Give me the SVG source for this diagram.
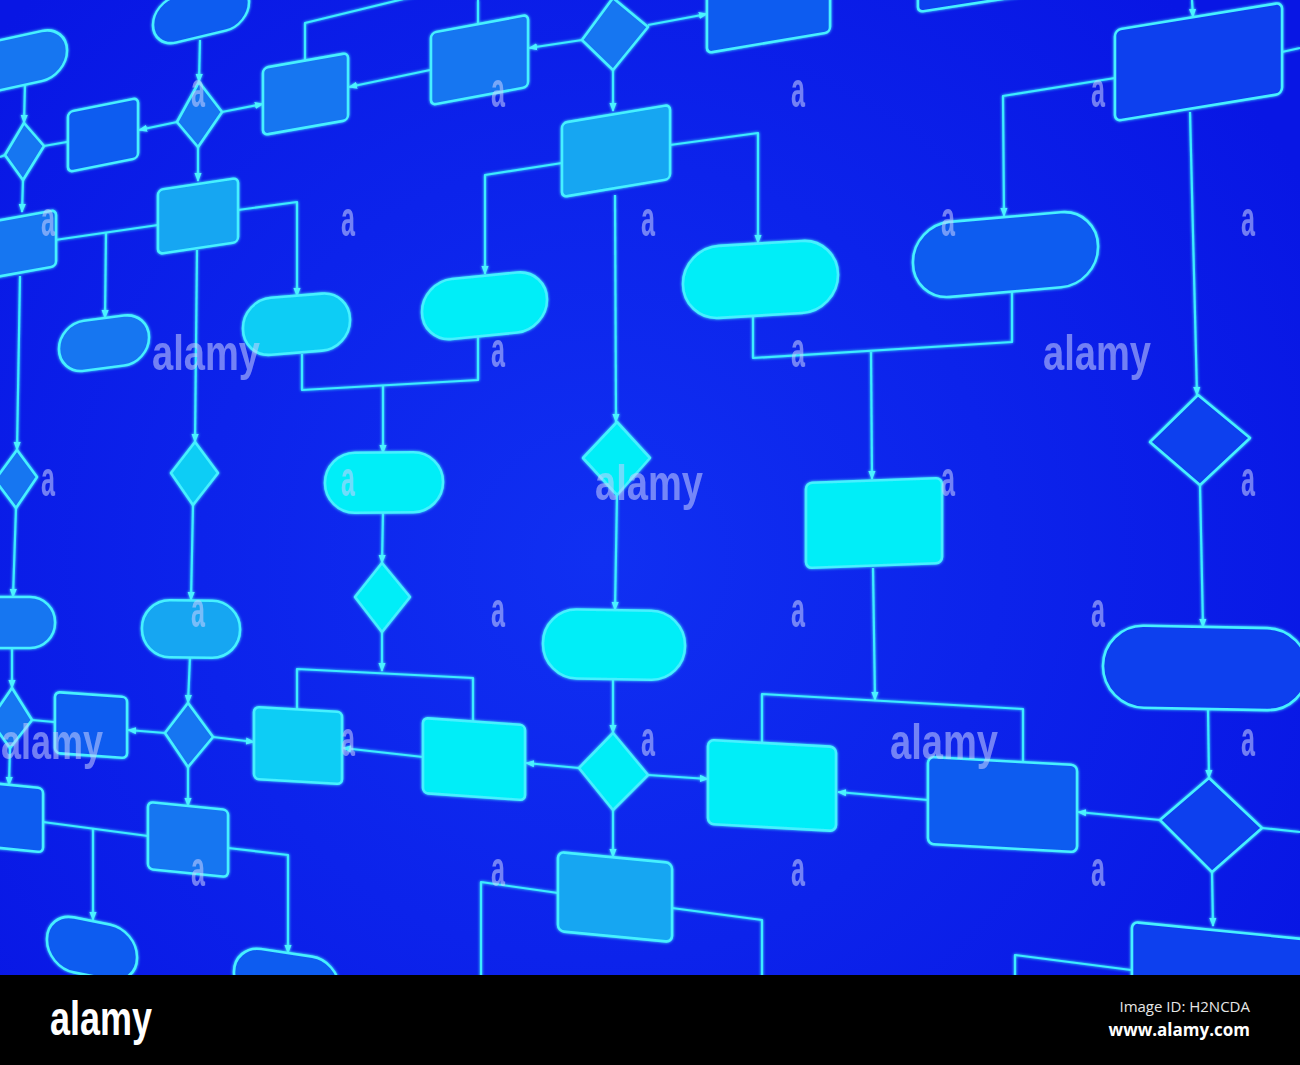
<svg xmlns="http://www.w3.org/2000/svg" width="1300" height="1065" viewBox="0 0 1300 1065">
<defs>
<radialGradient id="bg" gradientUnits="userSpaceOnUse" cx="600" cy="560" r="800">
<stop offset="0" stop-color="#1030f2"/>
<stop offset="1" stop-color="#0816e4"/>
</radialGradient>
<filter id="glow" x="-20%" y="-20%" width="140%" height="140%">
<feGaussianBlur in="SourceGraphic" stdDeviation="1.8" result="b"/>
<feMerge><feMergeNode in="b"/><feMergeNode in="SourceGraphic"/></feMerge>
</filter>
<marker id="ah" viewBox="0 0 10 10" refX="9" refY="5" markerWidth="9" markerHeight="9" markerUnits="userSpaceOnUse" orient="auto">
<path d="M0,1 L10,5 L0,9 z" fill="#4cf2ff"/>
</marker>
<style>
.ln{fill:none;stroke:#3cecff;stroke-width:2.2;stroke-linejoin:round}
.arr{marker-end:url(#ah)}
.node{filter:url(#glow)}
.node rect,.node polygon{stroke:#46f0ff;stroke-width:2.6;stroke-linejoin:round}
.c1{fill:#02eef8}.c2{fill:#10cdf5}.c3{fill:#12a6f2}.c4{fill:#1476f1}.c5{fill:#105cf0}.c6{fill:#0a40ee}
.wm{font-family:"Liberation Sans Narrow","Liberation Sans",sans-serif;font-weight:bold;font-size:50px;fill:#c8d0ff;opacity:.55}
</style>
</defs>
<rect width="1300" height="1065" fill="url(#bg)"/>

<g id="connectors" filter="url(#glow)">
<polyline class="ln arr" points="25,84 24,123"/>
<polyline class="ln arr" points="44,146 78,140"/>
<polyline class="ln arr" points="23,180 22,212"/>
<polyline class="ln" points="5,155 0,157"/>
<polyline class="ln arr" points="200,40 199,82"/>
<polyline class="ln arr" points="177,122 139,130"/>
<polyline class="ln arr" points="222,112 263,104"/>
<polyline class="ln arr" points="198,147 198,181"/>
<polyline class="ln" points="305,61 305,23 420,-5"/>
<polyline class="ln" points="478,24 478,0"/>
<polyline class="ln arr" points="430,70 349,87"/>
<polyline class="ln arr" points="582,40 529,48"/>
<polyline class="ln arr" points="648,25 707,14"/>
<polyline class="ln arr" points="613,70 613,111"/>
<polyline class="ln arr" points="562,163 485,175 485,274"/>
<polyline class="ln arr" points="670,145 758,133 758,243"/>
<polyline class="ln arr" points="615,195 616,422"/>
<polyline class="ln" points="478,337 478,380 302,390 302,354"/>
<polyline class="ln arr" points="383,386 383,453"/>
<polyline class="ln" points="753,314 753,358 1012,342 1012,292"/>
<polyline class="ln arr" points="871,352 872,479"/>
<polyline class="ln arr" points="1192,0 1193,17"/>
<polyline class="ln" points="1282,52 1300,48"/>
<polyline class="ln arr" points="1115,78 1003,96 1004,216"/>
<polyline class="ln arr" points="1190,112 1197,395"/>
<polyline class="ln arr" points="1200,485 1203,627"/>
<polyline class="ln arr" points="1208,708 1209,778"/>
<polyline class="ln arr" points="1160,820 1078,812"/>
<polyline class="ln" points="1262,828 1300,832"/>
<polyline class="ln arr" points="1212,872 1213,926"/>
<polyline class="ln" points="1131,970 1015,955 1015,980"/>
<polyline class="ln" points="1023,762 1023,709 762,694 762,742"/>
<polyline class="ln arr" points="873,568 875,700"/>
<polyline class="ln arr" points="928,800 838,792"/>
<polyline class="ln arr" points="617,495 615,610"/>
<polyline class="ln arr" points="613,680 613,733"/>
<polyline class="ln arr" points="579,768 526,763"/>
<polyline class="ln arr" points="648,775 708,779"/>
<polyline class="ln arr" points="613,810 613,857"/>
<polyline class="ln" points="558,893 481,882 481,980"/>
<polyline class="ln" points="672,908 762,920 762,980"/>
<polyline class="ln" points="473,722 473,678 297,669 297,709"/>
<polyline class="ln arr" points="382,632 382,671"/>
<polyline class="ln arr" points="383,513 382,563"/>
<polyline class="ln arr" points="423,757 343,748"/>
<polyline class="ln arr" points="213,737 254,742"/>
<polyline class="ln arr" points="165,733 128,730"/>
<polyline class="ln arr" points="188,767 188,806"/>
<polyline class="ln arr" points="190,657 188,703"/>
<polyline class="ln arr" points="193,505 191,600"/>
<polyline class="ln arr" points="197,250 195,442"/>
<polyline class="ln" points="158,225 55,240"/>
<polyline class="ln arr" points="106,233 105,318"/>
<polyline class="ln arr" points="238,210 297,202 297,296"/>
<polyline class="ln arr" points="20,276 17,450"/>
<polyline class="ln arr" points="16,508 13,597"/>
<polyline class="ln arr" points="12,648 12,688"/>
<polyline class="ln arr" points="32,720 65,723"/>
<polyline class="ln arr" points="10,748 9,785"/>
<polyline class="ln" points="43,822 148,836"/>
<polyline class="ln arr" points="93,829 93,920"/>
<polyline class="ln arr" points="228,848 288,855 288,953"/>
</g>

<g id="pillA" class="node"><rect class="c4" x="0" y="0" width="107" height="50" rx="25" transform="translate(-40,49) skewY(-12.4)"/></g>
<g id="d1" class="node"><polygon class="c4" points="24,123 44,146 23,180 5,155"/></g>
<g id="r1" class="node"><rect class="c5" x="0" y="0" width="70" height="60" rx="5" transform="translate(68,112) skewY(-11.3)"/></g>
<g id="pillB" class="node"><rect class="c5" x="0" y="0" width="96" height="46" rx="23" transform="translate(153,2) skewY(-13.5)"/></g>
<g id="d2" class="node"><polygon class="c4" points="199,82 222,112 198,147 177,122"/></g>
<g id="r2" class="node"><rect class="c4" x="0" y="0" width="85" height="67" rx="5" transform="translate(263,68) skewY(-10)"/></g>
<g id="r3" class="node"><rect class="c4" x="0" y="0" width="97" height="72" rx="5" transform="translate(431,33) skewY(-10.6)"/></g>
<g id="d3" class="node"><polygon class="c4" points="613,-2 648,27 613,70 582,40"/></g>
<g id="r4" class="node"><rect class="c5" x="0" y="0" width="123" height="73" rx="5" transform="translate(707,-20) skewY(-9.65)"/></g>
<g id="r5" class="node"><rect class="c6" x="0" y="0" width="130" height="72" rx="5" transform="translate(918,-60) skewY(-8.8)"/></g>
<g id="r6" class="node"><rect class="c3" x="0" y="0" width="108" height="74" rx="5" transform="translate(562,123) skewY(-9.5)"/></g>
<g id="p7" class="node"><rect class="c1" x="0" y="0" width="125" height="60" rx="30" transform="translate(422,282) skewY(-5.7)"/></g>
<g id="p8" class="node"><rect class="c1" x="0" y="0" width="155" height="72" rx="36" transform="translate(683,248) skewY(-3.4)"/></g>
<g id="p11" class="node"><rect class="c5" x="0" y="0" width="185" height="75" rx="37" transform="translate(913,225) skewY(-4.9)"/></g>
<g id="r14" class="node"><rect class="c6" x="0" y="0" width="167" height="91" rx="6" transform="translate(1115,30) skewY(-9.3)"/></g>
<g id="r0" class="node"><rect class="c4" x="0" y="0" width="66" height="56" rx="5" transform="translate(-10,222) skewY(-10.2)"/></g>
<g id="p28" class="node"><rect class="c4" x="0" y="0" width="90" height="50" rx="25" transform="translate(59,324) skewY(-7.4)"/></g>
<g id="r27" class="node"><rect class="c3" x="0" y="0" width="80" height="64" rx="5" transform="translate(158,190) skewY(-8.5)"/></g>
<g id="p29" class="node"><rect class="c2" x="0" y="0" width="107" height="57" rx="28" transform="translate(243,300) skewY(-4.6)"/></g>
<g id="d40" class="node"><polygon class="c2" points="195,442 218,473 193,505 171,473"/></g>
<g id="p10" class="node"><rect class="c1" x="0" y="0" width="118" height="60" rx="30" transform="translate(325,453) skewY(-0.5)"/></g>
<g id="d26" class="node"><polygon class="c1" points="382,563 410,597 382,632 355,597"/></g>
<g id="d13" class="node"><polygon class="c1" points="617,422 650,458 617,495 583,458"/></g>
<g id="r12" class="node"><rect class="c1" x="0" y="0" width="136" height="85" rx="6" transform="translate(806,483) skewY(-2.1)"/></g>
<g id="d15" class="node"><polygon class="c6" points="1198,395 1250,438 1200,485 1150,442"/></g>
<g id="p16" class="node"><rect class="c6" x="0" y="0" width="205" height="82" rx="41" transform="translate(1103,625) skewY(1.1)"/></g>
<g id="d17" class="node"><polygon class="c6" points="1209,778 1262,828 1212,872 1160,820"/></g>
<g id="r18" class="node"><rect class="c5" x="0" y="0" width="149" height="87" rx="6" transform="translate(928,757) skewY(3.1)"/></g>
<g id="r19" class="node"><rect class="c6" x="0" y="0" width="175" height="90" rx="6" transform="translate(1132,922) skewY(5.7)"/></g>
<g id="p39" class="node"><rect class="c3" x="0" y="0" width="98" height="57" rx="28" transform="translate(142,600) skewY(0.6)"/></g>
<g id="p21" class="node"><rect class="c1" x="0" y="0" width="142" height="69" rx="34" transform="translate(543,609) skewY(0.9)"/></g>
<g id="d22" class="node"><polygon class="c1" points="613,733 648,775 613,810 579,768"/></g>
<g id="r23" class="node"><rect class="c1" x="0" y="0" width="102" height="75" rx="5" transform="translate(423,718) skewY(4)"/></g>
<g id="r20" class="node"><rect class="c1" x="0" y="0" width="128" height="84" rx="6" transform="translate(708,740) skewY(3.1)"/></g>
<g id="r24" class="node"><rect class="c3" x="0" y="0" width="114" height="79" rx="6" transform="translate(558,852) skewY(5.5)"/></g>
<g id="r25" class="node"><rect class="c2" x="0" y="0" width="88" height="72" rx="5" transform="translate(254,707) skewY(3.3)"/></g>
<g id="d38" class="node"><polygon class="c4" points="188,703 213,737 188,767 165,733"/></g>
<g id="r33" class="node"><rect class="c5" x="0" y="0" width="72" height="61" rx="5" transform="translate(55,692) skewY(4)"/></g>
<g id="r35" class="node"><rect class="c4" x="0" y="0" width="80" height="67" rx="5" transform="translate(148,802) skewY(5.7)"/></g>
<g id="r34" class="node"><rect class="c5" x="0" y="0" width="63" height="64" rx="5" transform="translate(-20,782) skewY(5.7)"/></g>
<g id="p36" class="node"><rect class="c5" x="0" y="0" width="90" height="55" rx="27" transform="translate(47,912) skewY(11.3)"/></g>
<g id="p37" class="node"><rect class="c5" x="0" y="0" width="105" height="55" rx="27" transform="translate(234,945) skewY(8.5)"/></g>
<g id="d32" class="node"><polygon class="c4" points="12,688 32,720 10,748 -10,720"/></g>
<g id="d30" class="node"><polygon class="c4" points="17,450 37,477 16,508 -5,480"/></g>
<g id="p31" class="node"><rect class="c4" x="0" y="0" width="115" height="51" rx="25" transform="translate(-60,597)"/></g>

<g id="watermarks">
<text class="wm" x="191" y="107" textLength="14" lengthAdjust="spacingAndGlyphs">a</text>
<text class="wm" x="491" y="107" textLength="14" lengthAdjust="spacingAndGlyphs">a</text>
<text class="wm" x="791" y="107" textLength="14" lengthAdjust="spacingAndGlyphs">a</text>
<text class="wm" x="1091" y="107" textLength="14" lengthAdjust="spacingAndGlyphs">a</text>
<text class="wm" x="41" y="236" textLength="14" lengthAdjust="spacingAndGlyphs">a</text>
<text class="wm" x="341" y="236" textLength="14" lengthAdjust="spacingAndGlyphs">a</text>
<text class="wm" x="641" y="236" textLength="14" lengthAdjust="spacingAndGlyphs">a</text>
<text class="wm" x="941" y="236" textLength="14" lengthAdjust="spacingAndGlyphs">a</text>
<text class="wm" x="1241" y="236" textLength="14" lengthAdjust="spacingAndGlyphs">a</text>
<text class="wm" x="152" y="370" textLength="108" lengthAdjust="spacingAndGlyphs">alamy</text>
<text class="wm" x="491" y="367" textLength="14" lengthAdjust="spacingAndGlyphs">a</text>
<text class="wm" x="791" y="367" textLength="14" lengthAdjust="spacingAndGlyphs">a</text>
<text class="wm" x="1043" y="370" textLength="108" lengthAdjust="spacingAndGlyphs">alamy</text>
<text class="wm" x="41" y="496" textLength="14" lengthAdjust="spacingAndGlyphs">a</text>
<text class="wm" x="341" y="496" textLength="14" lengthAdjust="spacingAndGlyphs">a</text>
<text class="wm" x="595" y="500" textLength="108" lengthAdjust="spacingAndGlyphs">alamy</text>
<text class="wm" x="941" y="496" textLength="14" lengthAdjust="spacingAndGlyphs">a</text>
<text class="wm" x="1241" y="496" textLength="14" lengthAdjust="spacingAndGlyphs">a</text>
<text class="wm" x="191" y="627" textLength="14" lengthAdjust="spacingAndGlyphs">a</text>
<text class="wm" x="491" y="627" textLength="14" lengthAdjust="spacingAndGlyphs">a</text>
<text class="wm" x="791" y="627" textLength="14" lengthAdjust="spacingAndGlyphs">a</text>
<text class="wm" x="1091" y="627" textLength="14" lengthAdjust="spacingAndGlyphs">a</text>
<text class="wm" x="1" y="759" textLength="102" lengthAdjust="spacingAndGlyphs">alamy</text>
<text class="wm" x="341" y="756" textLength="14" lengthAdjust="spacingAndGlyphs">a</text>
<text class="wm" x="641" y="756" textLength="14" lengthAdjust="spacingAndGlyphs">a</text>
<text class="wm" x="890" y="759" textLength="108" lengthAdjust="spacingAndGlyphs">alamy</text>
<text class="wm" x="1241" y="756" textLength="14" lengthAdjust="spacingAndGlyphs">a</text>
<text class="wm" x="191" y="886" textLength="14" lengthAdjust="spacingAndGlyphs">a</text>
<text class="wm" x="491" y="886" textLength="14" lengthAdjust="spacingAndGlyphs">a</text>
<text class="wm" x="791" y="886" textLength="14" lengthAdjust="spacingAndGlyphs">a</text>
<text class="wm" x="1091" y="886" textLength="14" lengthAdjust="spacingAndGlyphs">a</text>
</g>

<g id="footer">
<rect x="0" y="975" width="1300" height="90" fill="#000"/>
<text x="50" y="1035" font-family="Liberation Sans Narrow, Liberation Sans, sans-serif" font-weight="bold" font-size="48" fill="#fff" textLength="102" lengthAdjust="spacingAndGlyphs">alamy</text>
<text x="1250" y="1012" text-anchor="end" font-family="Open Sans, Noto Sans, sans-serif" font-size="15" fill="#e6e6e6">Image ID: H2NCDA</text>
<text x="1250" y="1036" text-anchor="end" font-family="Open Sans, Noto Sans, sans-serif" font-weight="bold" font-size="17" fill="#fff">www.alamy.com</text>
</g>
</svg>
